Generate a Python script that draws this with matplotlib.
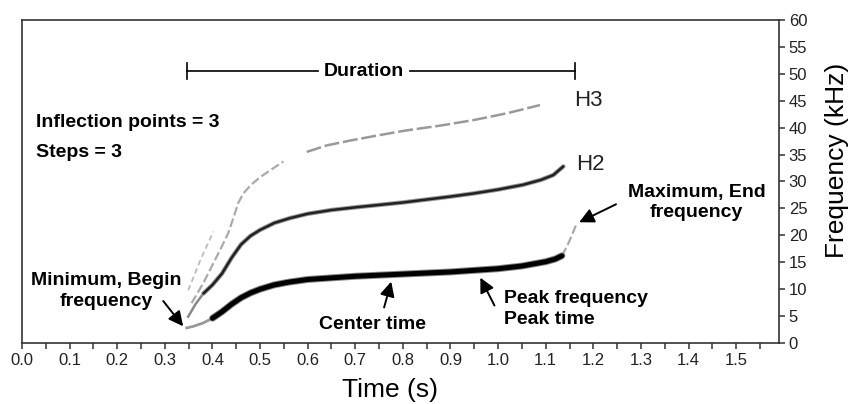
import matplotlib.pyplot as plt
import numpy as np

plt.rcParams["font.family"] = "sans-serif"
plt.rcParams["font.sans-serif"] = ["Liberation Sans", "DejaVu Sans"]

# fundamental contour (time s, frequency kHz)
fund_t = [0.346, 0.36, 0.38, 0.40, 0.42, 0.44, 0.46, 0.48, 0.50, 0.53, 0.56, 0.60,
          0.65, 0.70, 0.80, 0.90, 1.00, 1.05, 1.10, 1.12, 1.134]
fund_f = [2.8, 3.1, 3.7, 4.6, 5.8, 7.2, 8.4, 9.3, 10.0, 10.8, 11.3, 11.8,
          12.1, 12.4, 12.8, 13.2, 13.8, 14.3, 15.1, 15.6, 16.2]
# steep end of the fundamental
tail_t = [1.134, 1.145, 1.155, 1.165]
tail_f = [16.2, 18.0, 20.0, 22.2]

# second harmonic
h2_t = [0.349, 0.365, 0.381, 0.40, 0.42, 0.44, 0.46, 0.48, 0.50, 0.53, 0.563, 0.60,
        0.65, 0.70, 0.80, 0.90, 0.95, 1.00, 1.053, 1.09, 1.116, 1.137]
h2_f = [4.9, 7.3, 9.2, 10.8, 12.9, 15.8, 18.3, 19.9, 21.0, 22.3, 23.2, 24.0,
        24.7, 25.2, 26.1, 27.2, 27.8, 28.5, 29.4, 30.3, 31.2, 32.8]

# third harmonic (two pieces) and a short fragment near the start
h3a_t = [0.356, 0.38, 0.40, 0.42, 0.433, 0.445, 0.454, 0.465, 0.48, 0.50, 0.525, 0.549]
h3a_f = [7.4, 11.0, 14.5, 18.0, 20.4, 23.5, 26.0, 27.8, 29.3, 30.8, 32.3, 33.7]
h3b_t = [0.598, 0.64, 0.689, 0.75, 0.808, 0.88, 0.948, 1.02, 1.088]
h3b_f = [35.5, 36.7, 37.6, 38.6, 39.5, 40.4, 41.4, 42.7, 44.2]
frag_t = [0.349, 0.375, 0.402]
frag_f = [9.8, 15.5, 20.7]

dur_start, dur_end, dur_level = 0.346, 1.162, 50.5

x_ticks = np.arange(0.0, 1.55, 0.1)
y_ticks = np.arange(0, 61, 5)

fig = plt.figure(figsize=(8.48, 4.04), dpi=100)
ax = fig.add_axes([0.026, 0.151, 0.8926, 0.7995])

# contours
ax.plot(h3a_t, h3a_f, color="#aaaaaa", lw=1.6, ls=(0, (4, 1.5)))
ax.plot(h3b_t, h3b_f, color="#999999", lw=1.8, ls=(0, (6, 1.5)))
ax.plot(frag_t, frag_f, color="#bbbbbb", lw=1.3, ls=(0, (3, 2)))
ax.plot(h2_t[:3], h2_f[:3], color="#888888", lw=1.8)
ax.plot(h2_t[2:], h2_f[2:], color="#999999", lw=3.2, solid_capstyle="round")
ax.plot(h2_t[2:], h2_f[2:], color="#222222", lw=1.8, solid_capstyle="round")
ax.plot(tail_t, tail_f, color="#aaaaaa", lw=1.6, ls=(0, (4, 1.5)))
ax.plot(fund_t[:4], fund_f[:4], color="#999999", lw=2.0)
ax.plot(fund_t[3:], fund_f[3:], color="#888888", lw=5.0, solid_capstyle="round")
ax.plot(fund_t[3:], fund_f[3:], color="black", lw=3.6, solid_capstyle="round")

# duration bar
cap = 1.5
ax.plot([dur_start, 0.622], [dur_level, dur_level], color="black", lw=1.2)
ax.plot([0.815, dur_end], [dur_level, dur_level], color="black", lw=1.2)
ax.plot([dur_start, dur_start], [dur_level - cap, dur_level + cap], color="black", lw=1.2)
ax.plot([dur_end, dur_end], [dur_level - cap, dur_level + cap], color="black", lw=1.2)
ax.text(0.718, dur_level, "Duration", ha="center", va="center", fontsize=14, fontweight="bold")

bold = dict(fontsize=14, fontweight="bold", color="black")
ax.text(0.029, 41.0, "Inflection points = 3", ha="left", va="center", **bold)
ax.text(0.029, 35.3, "Steps = 3", ha="left", va="center", **bold)
ax.text(1.16, 45.0, "H3", ha="left", va="center", fontsize=16, color="#222222")
ax.text(1.164, 33.1, "H2", ha="left", va="center", fontsize=16, color="#222222")

arrow = dict(arrowstyle="-|>", color="black", lw=1.4, mutation_scale=22)
ax.annotate("", xy=(0.342, 2.7), xytext=(0.293, 8.2), arrowprops=arrow)
ax.text(0.176, 9.6, "Minimum, Begin\nfrequency", ha="center", va="center",
        linespacing=1.3, **bold)
ax.annotate("", xy=(0.777, 11.9), xytext=(0.759, 6.1), arrowprops=arrow)
ax.text(0.737, 3.5, "Center time", ha="center", va="center", **bold)
ax.annotate("", xy=(0.960, 12.6), xytext=(0.995, 6.5), arrowprops=arrow)
ax.text(1.013, 6.3, "Peak frequency\nPeak time", ha="left", va="center", linespacing=1.3, **bold)
ax.annotate("", xy=(1.165, 22.2), xytext=(1.253, 26.0), arrowprops=arrow)
ax.text(1.417, 26.1, "Maximum, End\nfrequency", ha="center", va="center", linespacing=1.3, **bold)

# axes styling
ax.set_xlim(0, 1.59)
ax.set_ylim(0, 60)
ax.set_xticks(x_ticks)
ax.set_xticklabels([f"{v:.1f}" for v in x_ticks])
ax.set_xticks(np.arange(0.05, 1.59, 0.1), minor=True)
ax.set_yticks(y_ticks)
ax.yaxis.tick_right()
ax.yaxis.set_label_position("right")
ax.tick_params(axis="both", which="both", direction="out", length=4, width=1.1,
               color="#333333", labelsize=12, labelcolor="#222222", pad=3)
for s in ax.spines.values():
    s.set_linewidth(1.2)
    s.set_color("#333333")

xl = ax.set_xlabel("Time (s)", fontsize=19, va="center")
ax.xaxis.set_label_coords(0.486, -0.146)
yl = ax.set_ylabel("Frequency (kHz)", fontsize=19, rotation=90, va="center", ha="center")
ax.yaxis.set_label_coords(1.077, 0.565)

fig.savefig("out.png", dpi=100)
